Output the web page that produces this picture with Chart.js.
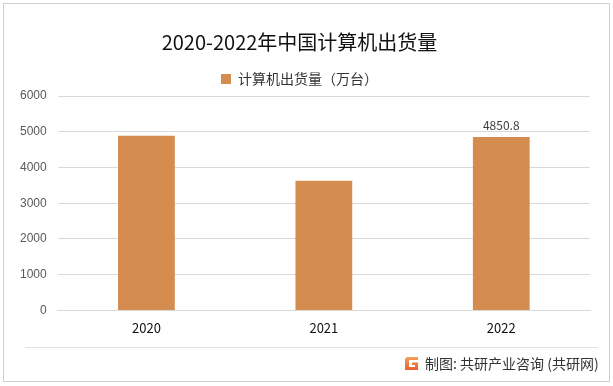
<!DOCTYPE html>
<html>
<head>
<meta charset="utf-8">
<script src="https://cdn.jsdelivr.net/npm/chart.js@4/dist/chart.umd.min.js"></script>
<style>
html,body{margin:0;padding:0;background:#fff;}
#wrap{width:613px;height:386px;position:relative;}
</style>
</head>
<body>
<div id="wrap"><canvas id="c" width="613" height="386"></canvas></div>
<script>
const categories = ["2020", "2021", "2022"];
const shipments = [4890, 3630, 4850.8];
const labelledValues = [null, null, "4850.8"];
const yTicks = [0, 1000, 2000, 3000, 4000, 5000, 6000];
const seriesName = "计算机出货量（万台）";
const titleText = "2020-2022年中国计算机出货量";
const sourceText = "制图: 共研产业咨询 (共研网)";

const FONT = "'Noto Sans CJK SC', 'Noto Sans', sans-serif";
const BAR = "#D48C4F";

const decor = {
  id: 'decor',
  beforeDraw(chart) {
    const ctx = chart.ctx;
    ctx.save();
    ctx.fillStyle = '#fff';
    ctx.fillRect(0, 0, chart.width, chart.height);
    ctx.restore();
  },
  afterDraw(chart) {
    const ctx = chart.ctx;
    ctx.save();
    ctx.strokeStyle = '#cfcfcf';
    ctx.lineWidth = 1;
    ctx.strokeRect(3.5, 3.5, 606, 378);
    ctx.strokeStyle = '#e3e3e3';
    ctx.beginPath();
    ctx.moveTo(25, 347.5);
    ctx.lineTo(598, 347.5);
    ctx.stroke();
    const meta = chart.getDatasetMeta(0);
    ctx.fillStyle = '#404040';
    ctx.font = "12px " + FONT;
    ctx.textAlign = 'center';
    ctx.textBaseline = 'bottom';
    meta.data.forEach((bar, i) => {
      if (labelledValues[i]) ctx.fillText(labelledValues[i], bar.x, bar.y - 6);
    });
    const lx = 405, ly = 357;
    const g = ctx.createLinearGradient(lx, ly, lx, ly + 13);
    g.addColorStop(0, '#F5A05A');
    g.addColorStop(1, '#E8612C');
    ctx.fillStyle = g;
    ctx.beginPath();
    ctx.moveTo(lx + 2, ly);
    ctx.lineTo(lx + 13, ly);
    ctx.lineTo(lx + 13, ly + 3);
    ctx.lineTo(lx + 4, ly + 3);
    ctx.lineTo(lx + 4, ly + 10);
    ctx.lineTo(lx + 10, ly + 10);
    ctx.lineTo(lx + 10, ly + 8);
    ctx.lineTo(lx + 7, ly + 8);
    ctx.lineTo(lx + 7, ly + 5.5);
    ctx.lineTo(lx + 13, ly + 5.5);
    ctx.lineTo(lx + 13, ly + 13);
    ctx.lineTo(lx, ly + 13);
    ctx.lineTo(lx, ly + 2);
    ctx.closePath();
    ctx.fill();
    ctx.fillStyle = '#333';
    ctx.font = "14px " + FONT;
    ctx.textAlign = 'left';
    ctx.textBaseline = 'middle';
    ctx.fillText(sourceText, 425, 364);
    ctx.restore();
  }
};

new Chart(document.getElementById('c'), {
  type: 'bar',
  data: {
    labels: categories,
    datasets: [{
      label: seriesName,
      data: shipments,
      backgroundColor: BAR,
      borderWidth: 0,
      barPercentage: 0.32,
      categoryPercentage: 1.0
    }]
  },
  options: {
    responsive: false,
    animation: false,
    devicePixelRatio: 1,
    layout: { padding: { top: 30, left: 9, right: 23, bottom: 40 } },
    plugins: {
      title: {
        display: true,
        text: titleText,
        color: '#111',
        font: { family: FONT, size: 20, weight: 'normal' },
        padding: { top: 0, bottom: 11 }
      },
      legend: {
        display: true,
        position: 'top',
        labels: {
          color: '#333',
          font: { family: FONT, size: 14 },
          boxWidth: 10,
          boxHeight: 10,
          padding: 7
        }
      },
      tooltip: { enabled: false }
    },
    scales: {
      x: {
        grid: { display: false, drawTicks: false },
        border: { display: true, color: '#d9d9d9' },
        ticks: { color: '#111', font: { family: FONT, size: 13 }, padding: 10 }
      },
      y: {
        min: yTicks[0], max: yTicks[yTicks.length - 1],
        afterBuildTicks(axis) { axis.ticks = yTicks.map(v => ({ value: v })); },
        ticks: {
          color: '#595959',
          font: { family: "'Liberation Sans', sans-serif", size: 12 },
          padding: 11,
          callback: (v) => String(v)
        },
        grid: { color: '#d9d9d9', drawTicks: false },
        border: { display: false }
      }
    }
  },
  plugins: [decor]
});
</script>
</body>
</html>
